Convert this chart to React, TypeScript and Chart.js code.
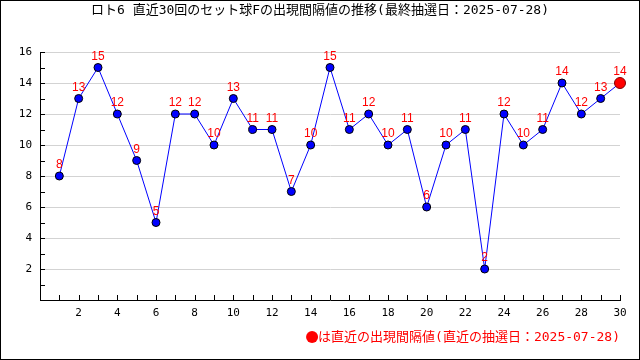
import React, { useEffect, useRef } from "react";
import { Chart, registerables } from "chart.js";

Chart.register(...registerables);

const TITLE = "ロト6 直近30回のセット球Fの出現間隔値の推移(最終抽選日：2025-07-28)";
const NOTE_MARK = "●";
const NOTE = "は直近の出現間隔値(直近の抽選日：2025-07-28)";
const draws = Array.from({ length: 30 }, (_, i) => i + 1);
const intervals = [8, 13, 15, 12, 9, 5, 12, 12, 10, 13, 11, 11, 7, 10, 15, 11, 12, 10, 11, 6, 10, 11, 2, 12, 10, 11, 14, 12, 13, 14];
const yTickLabels = [2, 4, 6, 8, 10, 12, 14, 16];
const xTickLabels = [2, 4, 6, 8, 10, 12, 14, 16, 18, 20, 22, 24, 26, 28, 30];

const CJK = "'DejaVu Sans Mono', 'Noto Sans CJK JP', monospace";

const overlay = {
  id: "overlay",
  afterDatasetsDraw(chart: any) {
    const ctx = chart.ctx;
    const xs = chart.scales.x;
    const ys = chart.scales.y;
    const area = chart.chartArea;
    ctx.save();
    ctx.strokeStyle = "#000";
    ctx.lineWidth = 1;
    ctx.beginPath();
    for (let v = 1; v <= 16; v++) {
      const y = Math.round(ys.getPixelForValue(v)) + 0.5;
      ctx.moveTo(area.left, y);
      ctx.lineTo(area.left + 5, y);
    }
    for (let v = 1; v <= 30; v++) {
      const x = Math.round(xs.getPixelForValue(v)) + 0.5;
      ctx.moveTo(x, area.bottom);
      ctx.lineTo(x, area.bottom - 5);
    }
    ctx.stroke();
    ctx.fillStyle = "#ff0000";
    ctx.font = "12px 'Liberation Sans', sans-serif";
    ctx.textAlign = "center";
    ctx.textBaseline = "middle";
    intervals.forEach((v, i) => {
      const x = xs.getPixelForValue(draws[i]);
      const y = ys.getPixelForValue(v);
      ctx.fillText(String(v), x, y - 11);
    });
    ctx.fillStyle = "#000";
    ctx.font = `13px ${CJK}`;
    ctx.textAlign = "center";
    ctx.fillText(TITLE, 320, 11);
    ctx.fillStyle = "#ff0000";
    ctx.textAlign = "right";
    ctx.fillText(NOTE, 620, 338);
    const w = ctx.measureText(NOTE).width;
    ctx.beginPath();
    ctx.arc(620 - w - 6, 337, 6, 0, Math.PI * 2);
    ctx.fill();
    ctx.strokeStyle = "#000";
    ctx.strokeRect(0.5, 0.5, 639, 359);
    ctx.restore();
  },
};

export default function App() {
  const ref = useRef<HTMLCanvasElement>(null);
  useEffect(() => {
    document.body.style.margin = "0";
    const chart = new Chart(ref.current!, {
      type: "line",
      data: {
        datasets: [
          {
            data: draws.map((d, i) => ({ x: d, y: intervals[i] })),
            borderColor: "#0000ff",
            borderWidth: 1,
            pointBackgroundColor: (c: any) => (c.dataIndex === intervals.length - 1 ? "#ff0000" : "#0000ff"),
            pointBorderColor: (c: any) => (c.dataIndex === intervals.length - 1 ? "#800000" : "#000000"),
            pointBorderWidth: 1,
            pointRadius: (c: any) => (c.dataIndex === intervals.length - 1 ? 5.5 : 4),
            tension: 0,
            clip: false,
          },
        ],
      },
      options: {
        animation: false,
        responsive: false,
        devicePixelRatio: 1,
        layout: { padding: { top: 52, right: 20, left: 0, bottom: 0 } },
        plugins: { legend: { display: false }, title: { display: false }, tooltip: { enabled: false } },
        scales: {
          x: {
            type: "linear",
            min: 0,
            max: 30,
            afterFit: (s: any) => {
              s.height = 60;
            },
            afterBuildTicks: (s: any) => {
              s.ticks = xTickLabels.map((v) => ({ value: v }));
            },
            ticks: {
              autoSkip: false,
              maxRotation: 0,
              padding: 7,
              color: "#000",
              font: { family: "'DejaVu Sans Mono', monospace", size: 11 },
            },
            grid: { drawOnChartArea: false, drawTicks: false },
            border: { display: true, color: "#000" },
          },
          y: {
            min: 0,
            max: 16,
            afterFit: (s: any) => {
              s.width = 40;
            },
            afterBuildTicks: (s: any) => {
              s.ticks = yTickLabels.map((v) => ({ value: v }));
            },
            ticks: {
              padding: 8,
              color: "#000",
              font: { family: "'DejaVu Sans Mono', monospace", size: 11 },
            },
            grid: { color: "#d3d3d3", drawTicks: false },
            border: { display: true, color: "#000" },
          },
        },
      },
      plugins: [overlay],
    } as any);
    return () => chart.destroy();
  }, []);
  return (
    <div style={{ position: "absolute", left: 0, top: 0, width: 640, height: 360, background: "#fff" }}>
      <canvas ref={ref} width={640} height={360} />
    </div>
  );
}
